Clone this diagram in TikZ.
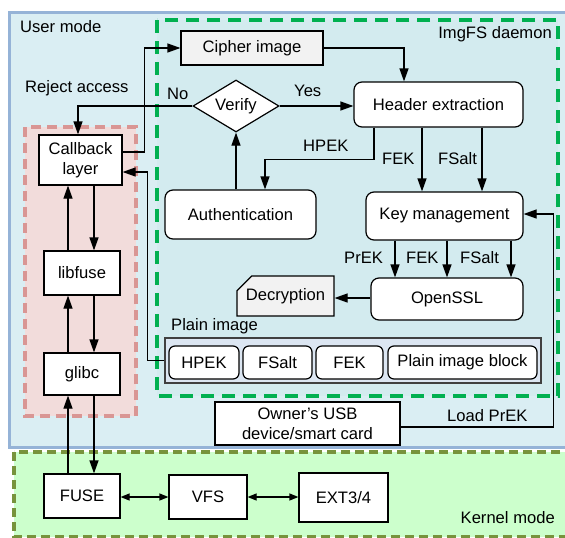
\documentclass[tikz,border=0pt]{standalone}
\usepackage{fontspec}
\setmainfont{Liberation Sans}
\usetikzlibrary{arrows.meta,shapes.geometric,shapes.misc}
\definecolor{userfill}{HTML}{DAEEF3}
\definecolor{userline}{HTML}{95B3D7}
\definecolor{imgfill}{HTML}{D3EBEF}
\definecolor{imgline}{HTML}{00B050}
\definecolor{pinkfill}{HTML}{F2DCDB}
\definecolor{pinkline}{HTML}{D99694}
\definecolor{kernfill}{HTML}{CCFFCC}
\definecolor{kernline}{HTML}{77933C}
\definecolor{grayfill}{HTML}{F2F2F2}
\definecolor{plainfill}{HTML}{DCE6F2}
\definecolor{plainline}{HTML}{404040}
\begin{document}
\begin{tikzpicture}[x=1pt,y=-1pt,
  font=\fontsize{16.6}{20}\selectfont,
  box/.style={draw=black, line width=1.2pt, fill=white, inner sep=0pt, align=center},
  rbox/.style={box, rounded corners=8pt},
  sbox/.style={box, rounded corners=6pt, minimum height=33pt},
  conn/.style={line width=1.2pt, -{Triangle[length=13pt,width=9pt]}},
  dconn/.style={line width=1.2pt, {Triangle[length=9pt,width=7pt]}-{Triangle[length=9pt,width=7pt]}},
  lbl/.style={inner sep=0pt, anchor=west},
]
\useasboundingbox (0,0) rectangle (565,538);
% regions
\path[draw=userline, fill=userfill, line width=3pt] (9,12) rectangle (575,447);
\path[draw=kernline, fill=kernfill, line width=3.2pt, dash pattern=on 9pt off 5pt] (14,452) rectangle (580,537);
\path[draw=imgline, fill=imgfill, line width=3.8pt, dash pattern=on 13pt off 8pt] (157,20) rectangle (558,396);
\path[draw=pinkline, fill=pinkfill, line width=3.2pt, dash pattern=on 10pt off 6pt] (25,127) rectangle (136,416);

% region labels
\node[lbl] (umode) at (20,27) {User mode};
\node[lbl, anchor=east] (imgfs) at (552,34) {ImgFS daemon};
\node[lbl, anchor=east] (kmode) at (555,518) {Kernel mode};

% nodes
\node[box, fill=grayfill, minimum width=142pt, minimum height=34pt] (cipher) at (252,48) {Cipher image};
\node[box, diamond, aspect=1.65, minimum width=86pt, minimum height=52pt] (ver) at (236,106) {Verify};
\node[rbox, minimum width=169pt, minimum height=45pt] (header) at (438.5,104.5) {Header extraction};
\node[box, minimum width=83pt, minimum height=50pt] (cb) at (80.5,160) {Callback\\layer};
\node[rbox, minimum width=151pt, minimum height=49pt] (auth) at (240.5,214.5) {Authentication};
\node[rbox, minimum width=157pt, minimum height=48pt] (km) at (444.5,216) {Key management};
\node[rbox, minimum width=152pt, minimum height=42pt] (ossl) at (447,299) {OpenSSL};
\node[box, fill=grayfill, chamfered rectangle, chamfered rectangle corners=north west,
      chamfered rectangle xsep=13pt, chamfered rectangle ysep=7pt,
      minimum width=97pt, minimum height=40pt] (dec) at (285.5,296) {Decryption};
\node[box, draw=plainline, fill=plainfill, minimum width=376pt, minimum height=45pt] (plain) at (353,360.5) {};
\node[sbox, minimum width=70pt] (hpek) at (204,362.5) {HPEK};
\node[sbox, minimum width=69pt] (fsalt) at (277.5,362.5) {FSalt};
\node[sbox, minimum width=67pt] (fek) at (349.5,362.5) {FEK};
\node[sbox, minimum width=149pt] (pib) at (462.5,362.5) {Plain image block};
\node[box, minimum width=76pt, minimum height=44pt] (lib) at (82,273) {libfuse};
\node[box, minimum width=76pt, minimum height=42pt] (glibc) at (82,374) {glibc};
\node[box, minimum width=185pt, minimum height=43pt] (usb) at (307.5,423.5) {Owner's USB\\device/smart card};
\node[box, minimum width=76pt, minimum height=44pt] (fuse) at (82,496) {FUSE};
\node[box, minimum width=78pt, minimum height=44pt] (vfs) at (208,497) {VFS};
\node[box, minimum width=89pt, minimum height=49pt] (ext) at (343.5,497.5) {EXT3/4};

% text labels
\node[lbl] (lrej) at (25,88) {Reject access};
\node[lbl] (lno) at (167,94) {No};
\node[lbl] (lyes) at (294,91) {Yes};
\node[lbl] (lhpek) at (303,146) {HPEK};
\node[lbl] (lfek1) at (382,159) {FEK};
\node[lbl] (lfsalt1) at (438,159) {FSalt};
\node[lbl] (lprek) at (344,258) {PrEK};
\node[lbl] (lfek2) at (406,258) {FEK};
\node[lbl] (lfsalt2) at (460,258) {FSalt};
\node[lbl] (lplain) at (171,326) {Plain image};
\node[lbl] (lload) at (447,416) {Load PrEK};

% connectors
\draw[conn] ([yshift=8pt]cb.east) -- ++(22,0) |- (cipher.west);
\draw[conn] (cipher.east) -| ([xshift=-34.5pt]header.north);
\draw[conn] (ver.east) -- (ver.east -| header.west);
\draw[conn] (ver.west) -| ([xshift=-2.5pt]cb.north);
\draw[conn] (ver.south |- auth.north) -- (ver.south);
\draw[conn] ([xshift=-64.5pt]header.south) -- ++(0,32) -| ([xshift=24.5pt]auth.north);
\draw[conn] ([xshift=-22.5pt]km.north |- header.south) -- ([xshift=-22.5pt]km.north);
\draw[conn] ([xshift=37.5pt]km.north |- header.south) -- ([xshift=37.5pt]km.north);
\draw[conn] ([xshift=-52pt]ossl.north |- km.south) -- ([xshift=-52pt]ossl.north);
\draw[conn] (ossl.north |- km.south) -- (ossl.north);
\draw[conn] ([xshift=64pt]ossl.north |- km.south) -- ([xshift=64pt]ossl.north);
\draw[conn] ([yshift=1pt]ossl.west) -- ([yshift=1pt]ossl.west -| dec.east);
\draw[conn] (plain.west) -- ++(-17,0) |- ([yshift=-12pt]cb.east);
\draw[conn] ([yshift=-3.5pt]usb.east) -- ++(153,0) |- ([yshift=2pt]km.east);
% left stack
\draw[conn] ([xshift=12pt]lib.north |- cb.south) -- ([xshift=12pt]lib.north);
\draw[conn] ([xshift=-14pt]lib.north) -- ([xshift=-14pt]lib.north |- cb.south);
\draw[conn] ([xshift=12pt]glibc.north |- lib.south) -- ([xshift=12pt]glibc.north);
\draw[conn] ([xshift=-14pt]glibc.north) -- ([xshift=-14pt]glibc.north |- lib.south);
\draw[conn] ([xshift=12pt]fuse.north |- glibc.south) -- ([xshift=12pt]fuse.north);
\draw[conn] ([xshift=-14pt]fuse.north) -- ([xshift=-14pt]fuse.north |- glibc.south);
% kernel
\draw[dconn] (fuse.east |- vfs.west) -- (vfs.west);
\draw[dconn] (vfs.east) -- (vfs.east -| ext.west);
\end{tikzpicture}
\end{document}
